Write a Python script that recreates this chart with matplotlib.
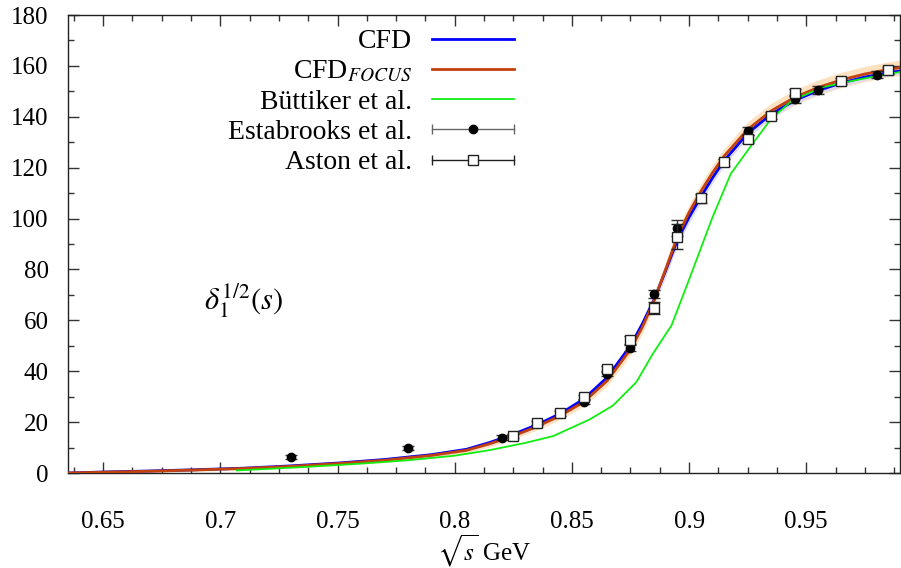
import matplotlib
matplotlib.use("Agg")
import matplotlib.pyplot as plt
from matplotlib.lines import Line2D
from matplotlib.legend_handler import HandlerBase
from matplotlib.ticker import MultipleLocator

plt.rcParams['font.family'] = ['Liberation Serif', 'DejaVu Serif']
plt.rcParams['mathtext.fontset'] = 'stix'

# P-wave I=1/2 K-pi phase shift curves (degrees vs sqrt(s) in GeV)
cfd_x = [0.635, 0.65, 0.67, 0.69, 0.71, 0.73, 0.75, 0.77, 0.79, 0.805, 0.815,
         0.825, 0.835, 0.845, 0.855, 0.865, 0.875, 0.88, 0.885, 0.89, 0.895,
         0.90, 0.905, 0.91, 0.915, 0.925, 0.935, 0.945, 0.955, 0.965, 0.975,
         0.985, 0.99]
cfd_y = [0.0, 0.4, 0.8, 1.3, 1.9, 2.8, 3.9, 5.3, 7.2, 9.3, 12.0,
         15.2, 18.9, 23.3, 29.0, 37.5, 50.0, 58.5, 68.0, 79.5, 91.5,
         100.5, 108.5, 116.0, 122.8, 133.5, 141.0, 146.4, 150.3, 153.3, 155.6,
         157.3, 158.0]
cfd_err = [0.3, 0.3, 0.4, 0.4, 0.5, 0.5, 0.6, 0.6, 0.7, 0.8, 0.9,
           1.0, 1.0, 1.1, 1.2, 1.4, 1.6, 1.8, 2.0, 2.2, 2.4,
           2.4, 2.3, 2.2, 2.0, 1.8, 1.6, 1.5, 1.4, 1.4, 1.3,
           1.3, 1.3]

focus_y = [0.0, 0.3, 0.7, 1.2, 1.8, 2.6, 3.7, 5.0, 6.9, 8.9, 11.5,
           14.6, 18.2, 22.5, 27.9, 36.2, 48.6, 57.2, 67.6, 80.0, 92.8,
           102.4, 110.6, 118.0, 124.6, 135.0, 142.3, 147.6, 151.5, 154.5, 156.8,
           158.6, 159.3]
focus_err = [0.4, 0.4, 0.5, 0.5, 0.6, 0.7, 0.8, 0.9, 1.0, 1.1, 1.2,
             1.3, 1.4, 1.5, 1.7, 2.0, 2.3, 2.5, 2.7, 2.9, 3.0,
             3.0, 3.0, 3.0, 3.0, 3.0, 3.0, 3.0, 3.0, 3.0, 3.0,
             3.0, 3.0]

butt_x = [0.707, 0.72, 0.74, 0.76, 0.78, 0.80, 0.815, 0.83, 0.842, 0.8575,
          0.8675, 0.8775, 0.8845, 0.8925, 0.90, 0.91, 0.9178, 0.926, 0.935,
          0.944, 0.957, 0.97, 0.98, 0.99]
butt_y = [1.0, 1.6, 2.6, 3.7, 5.0, 6.8, 9.0, 11.8, 14.5, 21.0,
          26.5, 35.7, 46.8, 58.0, 76.0, 100.5, 117.6, 128.0, 139.2,
          146.4, 151.6, 154.2, 156.0, 157.6]

# Experimental points
est_x = [0.73, 0.78, 0.82, 0.855, 0.865, 0.875, 0.885, 0.895, 0.925, 0.945,
         0.955, 0.98]
est_y = [6.3, 9.9, 13.8, 28.1, 39.0, 49.2, 70.4, 96.3, 134.3, 146.9,
         150.4, 156.6]
est_err = [0.8, 0.8, 1.0, 1.0, 1.0, 1.2, 1.5, 3.0, 1.5, 1.5, 1.5, 1.5]

ast_x = [0.825, 0.835, 0.845, 0.855, 0.865, 0.875, 0.885, 0.895, 0.905,
         0.915, 0.925, 0.935, 0.945, 0.965, 0.985]
ast_y = [14.7, 19.6, 23.5, 29.8, 40.7, 52.3, 64.8, 92.9, 108.0,
         122.1, 131.3, 140.5, 149.5, 154.2, 158.2]
ast_err = [0.8, 0.8, 1.0, 1.0, 1.2, 1.5, 2.5, 5.0, 1.8,
           1.5, 1.5, 1.2, 1.5, 1.2, 1.2]

x_ticks = [0.65, 0.7, 0.75, 0.8, 0.85, 0.9, 0.95]
x_tick_labels = ['0.65', '0.7', '0.75', '0.8', '0.85', '0.9', '0.95']
y_ticks = [0, 20, 40, 60, 80, 100, 120, 140, 160, 180]

BLUE = '#0000ff'
ORANGE = '#c2410c'
GREEN = '#10ee10'


class HorizontalErrHandler(HandlerBase):
    """Legend key: horizontal bar with end caps and a marker in the middle."""

    def __init__(self, marker, mfc, mec, ecolor, ms):
        super().__init__()
        self.marker = marker
        self.mfc = mfc
        self.mec = mec
        self.ecolor = ecolor
        self.ms = ms

    def create_artists(self, legend, orig_handle, xdescent, ydescent,
                       width, height, fontsize, trans):
        y = height / 2.0 - ydescent
        x0 = -xdescent
        x1 = x0 + width
        bar = Line2D([x0, x1], [y, y], color=self.ecolor, lw=1.0)
        caps = Line2D([x0, x1], [y, y], ls='none', marker='|', ms=7,
                      mew=1.0, color=self.ecolor)
        mk = Line2D([(x0 + x1) / 2.0], [y], ls='none', marker=self.marker,
                    ms=self.ms, mfc=self.mfc, mec=self.mec, mew=1.0)
        for a in (bar, caps, mk):
            a.set_transform(trans)
        return [bar, caps, mk]


fig = plt.figure(figsize=(9.01, 5.68), dpi=100)
ax = fig.add_axes([68 / 901, 95 / 568, 832 / 901, 458 / 568])

# error bands
ax.fill_between(cfd_x, [v - e for v, e in zip(focus_y, focus_err)],
                [v + e for v, e in zip(focus_y, focus_err)],
                color='#fde2c2', lw=0, zorder=1)
ax.fill_between(cfd_x, [v - e for v, e in zip(cfd_y, cfd_err)],
                [v + e for v, e in zip(cfd_y, cfd_err)],
                color='#d8d8fb', lw=0, alpha=0.8, zorder=1.1)

l_cfd, = ax.plot(cfd_x, cfd_y, color=BLUE, lw=2.0, zorder=3)
l_butt, = ax.plot(butt_x, butt_y, color=GREEN, lw=1.3, zorder=3.2)
l_focus, = ax.plot(cfd_x, focus_y, color=ORANGE, lw=2.0, zorder=3.1)

est = ax.errorbar(est_x, est_y, yerr=est_err, fmt='o', ms=6, mfc='black',
                  mec='black', ecolor='#333333', elinewidth=1.0, capsize=4,
                  zorder=5)
ast = ax.errorbar(ast_x, ast_y, yerr=ast_err, fmt='s', ms=7, mfc='white',
                  mec='#222222', mew=1.0, ecolor='#222222', elinewidth=1.0,
                  capsize=4, zorder=6)

ax.set_xlim(0.635, 0.99)
ax.set_ylim(0, 180)
ax.set_xticks(x_ticks)
ax.set_xticklabels(x_tick_labels)
ax.set_yticks(y_ticks)
ax.xaxis.set_minor_locator(MultipleLocator(0.0125))
ax.yaxis.set_minor_locator(MultipleLocator(10))

ax.tick_params(which='both', direction='in', top=True, right=True,
               color='#333333', width=1.0)
ax.tick_params(which='major', length=8)
ax.tick_params(which='minor', length=4)
ax.tick_params(axis='x', which='major', labelsize=18, pad=27)
ax.tick_params(axis='y', which='major', labelsize=18, pad=14)
for sp in ax.spines.values():
    sp.set_color('#222222')
    sp.set_linewidth(1.0)

ax.set_xlabel(r'$\sqrt{s}$ GeV', fontsize=18)
ax.xaxis.label.set_va('baseline')
ax.xaxis.set_label_coords(0.5, -0.192)
ax.text(0.71, 67.8, r'$\delta_1^{1/2}(s)$', fontsize=22, ha='center',
        va='center')

handles = [l_cfd, l_focus, l_butt, est, ast]
labels = ['CFD', r'CFD$_{FOCUS}$', 'Büttiker et al.', 'Estabrooks et al.',
          'Aston et al.']
ax.legend(handles, labels, loc='upper right',
          bbox_to_anchor=((514 - 68) / 832, (473 - 29) / 458),
          frameon=False, markerfirst=False, fontsize=20,
          handlelength=2.95, handletextpad=0.72, labelspacing=0.17,
          borderpad=0, borderaxespad=0,
          handler_map={
              est: HorizontalErrHandler('o', 'black', 'black', '#666666', 6),
              ast: HorizontalErrHandler('s', 'white', '#222222', '#222222', 7),
          })

fig.savefig('out.png', dpi=100)
